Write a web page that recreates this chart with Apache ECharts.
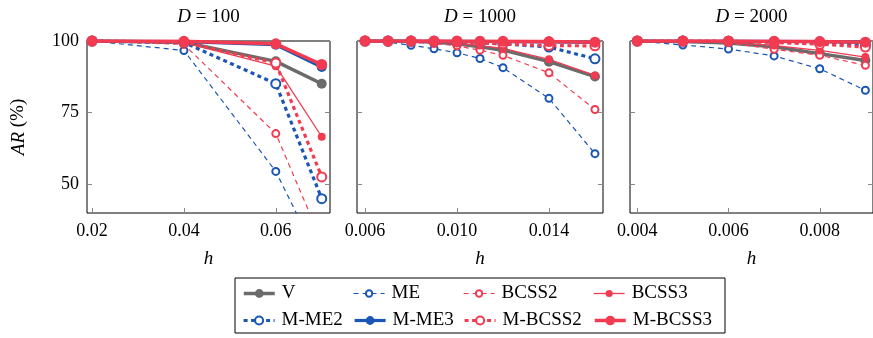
<!DOCTYPE html>
<html>
<head>
<meta charset="utf-8">
<script src="https://cdn.jsdelivr.net/npm/echarts@6/dist/echarts.min.js"></script>
<style>
  html, body { margin: 0; padding: 0; background: #fff; }
  #chart { width: 873px; height: 338px; }
</style>
</head>
<body>
<div id="chart"></div>
<script>
// step sizes h for each panel
const h100 = [0.02, 0.04, 0.06, 0.07];
const h1000 = [0.006, 0.007, 0.008, 0.009, 0.010, 0.011, 0.012, 0.014, 0.016];
const h2000 = [0.004, 0.005, 0.006, 0.007, 0.008, 0.009];

// tick labels
const yTicks = [50, 75, 100];
const xTicks100 = [0.02, 0.04, 0.06];
const xTicks1000 = [0.006, 0.010, 0.014];
const xTicks2000 = [0.004, 0.006, 0.008];

const methods = ["V", "ME", "BCSS2", "BCSS3", "M-ME2", "M-ME3", "M-BCSS2", "M-BCSS3"];

// AR (%) values, D = 100
const V_100 = [100, 99.6, 92.9, 85.1];
const ME_100 = [100, 96.7, 54.5, 22.0];
const BCSS2_100 = [100, 98.8, 67.7, 30.0];
const BCSS3_100 = [100, 99.4, 91.2, 66.6];
const MME2_100 = [100, 99.5, 85.1, 45.0];
const MME3_100 = [100, 99.8, 98.7, 90.9];
const MBCSS2_100 = [100, 99.6, 92.3, 52.6];
const MBCSS3_100 = [100, 99.9, 99.0, 91.8];

// D = 1000
const V_1000 = [100, 100, 99.9, 99.6, 99.0, 98.0, 96.8, 92.8, 87.6];
const ME_1000 = [100, 99.6, 98.5, 97.3, 95.9, 93.9, 90.7, 80.0, 60.7];
const BCSS2_1000 = [100, 99.9, 99.6, 99.1, 98.3, 96.8, 95.0, 88.9, 76.1];
const BCSS3_1000 = [100, 100, 99.9, 99.7, 99.2, 98.4, 97.4, 93.6, 88.0];
const MME2_1000 = [100, 100, 100, 99.9, 99.7, 99.4, 99.0, 97.9, 93.8];
const MME3_1000 = [100, 100, 100, 100, 99.9, 99.9, 99.8, 99.7, 99.5];
const MBCSS2_1000 = [100, 100, 100, 99.9, 99.7, 99.4, 99.0, 98.4, 98.3];
const MBCSS3_1000 = [100, 100, 100, 100, 100, 99.9, 99.9, 99.8, 99.6];

// D = 2000
const V_2000 = [100, 99.8, 99.3, 98.0, 95.6, 93.2];
const ME_2000 = [100, 98.6, 97.2, 94.8, 90.3, 82.8];
const BCSS2_2000 = [100, 99.8, 99.4, 97.1, 95.0, 91.5];
const BCSS3_2000 = [100, 99.9, 99.5, 98.4, 96.7, 94.4];
const MME2_2000 = [100, 100, 99.9, 99.7, 99.3, 98.6];
const MME3_2000 = [100, 100, 100, 99.9, 99.8, 99.6];
const MBCSS2_2000 = [100, 100, 99.9, 99.5, 98.9, 97.9];
const MBCSS3_2000 = [100, 100, 100, 99.9, 99.8, 99.6];

const GRAY = "#6b6b6b", BLUE = "#1a56b3", RED = "#f23b51";
const FONT = "Liberation Serif";

// look of each method's line and marker
const look = {
  "V":       { c: GRAY, w: 3.5, dash: "solid", empty: false, s: 10 },
  "ME":      { c: BLUE, w: 1.2, dash: [5, 4], empty: true, s: 7, b: 1.3 },
  "BCSS2":   { c: RED,  w: 1.2, dash: [5, 4], empty: true, s: 7, b: 1.3 },
  "BCSS3":   { c: RED,  w: 1.3, dash: "solid", empty: false, s: 8 },
  "M-ME2":   { c: BLUE, w: 3.2, dash: [4, 3.5], empty: true, s: 9, b: 3 },
  "M-ME3":   { c: BLUE, w: 3.2, dash: "solid", empty: false, s: 10 },
  "M-BCSS2": { c: RED,  w: 3.2, dash: [4, 3.5], empty: true, s: 9, b: 3 },
  "M-BCSS3": { c: RED,  w: 3.5, dash: "solid", empty: false, s: 11 },
};

const panels = [
  { D: "100", h: h100, ticks: xTicks100, dec: 2, min: 0.0189, max: 0.0718,
    vals: [V_100, ME_100, BCSS2_100, BCSS3_100, MME2_100, MME3_100, MBCSS2_100, MBCSS3_100],
    grid: { left: 87, top: 41, width: 243, height: 172 } },
  { D: "1000", h: h1000, ticks: xTicks1000, dec: 3, min: 0.00565, max: 0.01635,
    vals: [V_1000, ME_1000, BCSS2_1000, BCSS3_1000, MME2_1000, MME3_1000, MBCSS2_1000, MBCSS3_1000],
    grid: { left: 357, top: 41, width: 246, height: 172 } },
  { D: "2000", h: h2000, ticks: xTicks2000, dec: 3, min: 0.003841, max: 0.009167,
    vals: [V_2000, ME_2000, BCSS2_2000, BCSS3_2000, MME2_2000, MME3_2000, MBCSS2_2000, MBCSS3_2000],
    grid: { left: 630, top: 41, width: 245, height: 172 } },
];

const italic = { i: { fontStyle: "italic", fontFamily: FONT, fontSize: 19, color: "#000" } };
const tickStyle = { show: true, inside: true, length: 5, lineStyle: { color: "#888", width: 1 } };

// marker style shared by series and legend icons
const markStyle = (L) => L.empty
  ? { color: L.c, borderColor: L.c, borderWidth: L.b }
  : { color: L.c, borderWidth: 0 };

const grid = [], xAxis = [], yAxis = [], series = [], graphic = [];

panels.forEach((p, k) => {
  grid.push(Object.assign({ show: true, borderColor: "#000", borderWidth: 1, backgroundColor: "transparent" }, p.grid));

  // bottom axis with labels, top axis with ticks only
  xAxis.push({
    type: "value", gridIndex: k, min: p.min, max: p.max, position: "bottom",
    axisLine: { show: false }, splitLine: { show: false },
    axisTick: Object.assign({ customValues: p.ticks }, tickStyle),
    axisLabel: { customValues: p.ticks, formatter: (v) => v.toFixed(p.dec), color: "#000",
      fontFamily: FONT, fontSize: 18, margin: 9 },
    name: "{i|h}", nameLocation: "middle", nameGap: 36,
    nameTextStyle: { rich: italic },
  });
  xAxis.push({
    type: "value", gridIndex: k, min: p.min, max: p.max, position: "top",
    axisLine: { show: false }, splitLine: { show: false }, axisLabel: { show: false },
    axisTick: Object.assign({ customValues: p.ticks }, tickStyle),
  });

  yAxis.push({
    type: "value", gridIndex: k, min: 40, max: 100, position: "left",
    axisLine: { show: false }, splitLine: { show: false },
    axisTick: Object.assign({ customValues: yTicks }, tickStyle),
    axisLabel: { show: k === 0, customValues: yTicks, color: "#000", fontFamily: FONT, fontSize: 18, margin: 8 },
    name: k === 0 ? "{i|AR} (%)" : "", nameLocation: "middle", nameGap: 59,
    nameTextStyle: { fontFamily: FONT, fontSize: 19, color: "#000", rich: italic },
  });
  yAxis.push({
    type: "value", gridIndex: k, min: 40, max: 100, position: "right",
    axisLine: { show: false }, splitLine: { show: false }, axisLabel: { show: false },
    axisTick: Object.assign({ customValues: yTicks }, tickStyle),
  });

  methods.forEach((m, j) => {
    const L = look[m];
    series.push({
      name: m, type: "line", xAxisIndex: 2 * k, yAxisIndex: 2 * k,
      data: p.h.map((x, i) => [x, p.vals[j][i]]),
      symbol: L.empty ? "emptyCircle" : "circle", symbolSize: L.s,
      lineStyle: { color: L.c, width: L.w, type: L.dash },
      itemStyle: markStyle(L),
      clip: true, animation: false, emphasis: { disabled: true },
    });
  });

  // panel title
  graphic.push({
    type: "text", x: p.grid.left + p.grid.width / 2 - (k === 2 ? 1 : 0), y: 17,
    style: { text: "{i|D} = " + p.D, fill: "#000", font: "19px " + FONT,
      textAlign: "center", textVerticalAlign: "middle", rich: italic },
  });
});

// legend frame
graphic.push({
  type: "rect", shape: { x: 235, y: 278, width: 490, height: 55 },
  style: { fill: "none", stroke: "#000", lineWidth: 1 }, z: -1,
});

// one legend per entry: 4 columns x 2 rows
const colX = [242, 353, 463, 593];
const rowY = [284, 311];
const legend = methods.map((m, i) => {
  const L = look[m];
  return {
    left: colX[i % 4], top: rowY[Math.floor(i / 4)], padding: 0,
    itemWidth: 31, itemHeight: L.s + 1, itemGap: 0,
    data: [m], selectedMode: false,
    lineStyle: { width: L.w, type: L.dash, color: L.c },
    itemStyle: markStyle(L),
    textStyle: { fontFamily: FONT, fontSize: 19, color: "#000", padding: [0, 0, 0, 2] },
  };
});

const chart = echarts.init(document.getElementById("chart"), null, { renderer: "canvas" });
chart.setOption({
  backgroundColor: "#fff", animation: false,
  grid, xAxis, yAxis, series, legend, graphic,
});
</script>
</body>
</html>
